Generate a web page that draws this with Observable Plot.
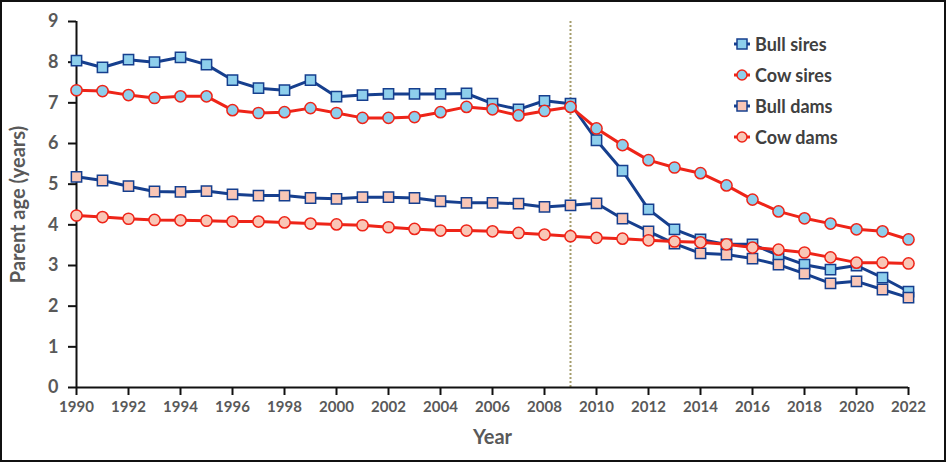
<!DOCTYPE html>
<html>
<head>
<meta charset="utf-8">
<script src="https://cdn.jsdelivr.net/npm/d3@7"></script>
<script src="https://cdn.jsdelivr.net/npm/@observablehq/plot@0.6"></script>
<style>
  body { margin: 0; background: #fff; }
  #wrap { position: relative; width: 946px; height: 462px; overflow: hidden; font-family: Lato, "Open Sans", sans-serif; }
  #frame { position: absolute; left: 0; top: 0; width: 946px; height: 462px; box-sizing: border-box; border: 2.5px solid #111; pointer-events: none; }
  #legend { position: absolute; left: 734px; top: 28px; font-weight: bold; font-size: 18px; color: #404040; }
  #legend .row { height: 31px; display: flex; align-items: center; }
  #legend svg { margin-right: 5px; }
</style>
</head>
<body>
<div id="wrap"><div id="chart"></div><div id="legend"></div><div id="frame"></div></div>
<script>
const years = d3.range(1990, 2023);
const seriesNames = ["Bull sires", "Cow sires", "Bull dams", "Cow dams"];
const bullSires = [8.04, 7.87, 8.06, 8.0, 8.12, 7.94, 7.56, 7.36, 7.31, 7.56, 7.15, 7.19, 7.22, 7.22, 7.22, 7.23, 6.98, 6.84, 7.05, 6.98, 6.08, 5.33, 4.38, 3.89, 3.64, 3.52, 3.52, 3.25, 3.02, 2.9, 3.0, 2.7, 2.36];
const cowSires = [7.31, 7.29, 7.19, 7.12, 7.16, 7.16, 6.82, 6.75, 6.77, 6.87, 6.75, 6.63, 6.63, 6.65, 6.77, 6.9, 6.84, 6.69, 6.8, 6.9, 6.37, 5.96, 5.59, 5.41, 5.27, 4.97, 4.62, 4.33, 4.16, 4.03, 3.89, 3.84, 3.64];
const bullDams = [5.18, 5.09, 4.95, 4.82, 4.81, 4.83, 4.75, 4.72, 4.72, 4.66, 4.64, 4.68, 4.68, 4.66, 4.58, 4.54, 4.54, 4.52, 4.44, 4.48, 4.53, 4.15, 3.84, 3.54, 3.3, 3.27, 3.17, 3.02, 2.8, 2.56, 2.61, 2.41, 2.21];
const cowDams = [4.23, 4.19, 4.15, 4.12, 4.11, 4.1, 4.08, 4.08, 4.06, 4.03, 4.01, 3.99, 3.94, 3.9, 3.86, 3.86, 3.84, 3.8, 3.76, 3.72, 3.68, 3.66, 3.62, 3.59, 3.57, 3.52, 3.44, 3.39, 3.32, 3.2, 3.07, 3.07, 3.05];
const xTicks = d3.range(1990, 2023, 2);
const yTicks = d3.range(0, 10);
const markerYear = 2009;

const blue = "#163f8e", red = "#ee2418", lightBlue = "#8ecfec", pink = "#f9c6b6";
const styles = {
  "Bull sires": {stroke: blue, fill: lightBlue, symbol: "square"},
  "Cow sires": {stroke: red, fill: lightBlue, symbol: "circle"},
  "Bull dams": {stroke: blue, fill: pink, symbol: "square"},
  "Cow dams": {stroke: red, fill: pink, symbol: "circle"}
};
const valuesBy = {"Bull sires": bullSires, "Cow sires": cowSires, "Bull dams": bullDams, "Cow dams": cowDams};
const tables = seriesNames.map(name => years.map((year, i) => ({year, value: valuesBy[name][i], name})));

const marks = [
  Plot.ruleX([markerYear], {stroke: "#a59d6c", strokeWidth: 2, strokeDasharray: "2,2", y1: 0, y2: 9}),
  Plot.axisY({ticks: yTicks, tickSize: 8, tickPadding: 10, fontSize: 18, label: null, stroke: "#111", strokeWidth: 2}),
  Plot.axisX({ticks: xTicks, tickSize: 8, tickPadding: 6, fontSize: 15, label: null, tickFormat: "d", stroke: "#111", strokeWidth: 2}),
  Plot.ruleX([1990], {y1: 0, y2: 9, stroke: "#111", strokeWidth: 2}),
  Plot.ruleY([0], {stroke: "#111", strokeWidth: 2}),
  Plot.text(["Parent age (years)"], {frameAnchor: "left", textAnchor: "middle", lineAnchor: "middle", rotate: -90, dx: -58, fontSize: 20, fontWeight: "bold", fill: "#595959"}),
  Plot.text(["Year"], {frameAnchor: "bottom", lineAnchor: "middle", dy: 50, fontSize: 20, fontWeight: "bold", fill: "#595959"})
];
tables.forEach((data, k) => {
  const s = styles[seriesNames[k]];
  marks.push(Plot.line(data, {x: "year", y: "value", stroke: s.stroke, strokeWidth: 3}));
  marks.push(Plot.dot(data, {x: "year", y: "value", stroke: s.stroke, fill: s.fill, symbol: s.symbol, r: s.symbol === "square" ? 5.8 : 5.6, strokeWidth: 1.5}));
});

const chart = Plot.plot({
  width: 946,
  height: 462,
  marginLeft: 76,
  marginRight: 38,
  marginTop: 21,
  marginBottom: 75,
  style: {fontFamily: "Lato, 'Open Sans', sans-serif", fontWeight: "bold", color: "#595959", background: "#fff"},
  x: {domain: [1990, 2022], axis: null},
  y: {domain: [0, 9], axis: null},
  marks
});
document.getElementById("chart").appendChild(chart);

const legend = document.getElementById("legend");
seriesNames.forEach(name => {
  const s = styles[name];
  const row = document.createElement("div");
  row.className = "row";
  const shape = s.symbol === "square"
    ? `<rect x="3" y="2" width="10" height="10" fill="${s.fill}" stroke="${s.stroke}" stroke-width="1.5"/>`
    : `<circle cx="8" cy="7" r="5" fill="${s.fill}" stroke="${s.stroke}" stroke-width="1.5"/>`;
  row.innerHTML = `<svg width="16" height="14"><line x1="0" x2="16" y1="7" y2="7" stroke="${s.stroke}" stroke-width="3"/>${shape}</svg><span>${name}</span>`;
  legend.appendChild(row);
});
</script>
</body>
</html>
